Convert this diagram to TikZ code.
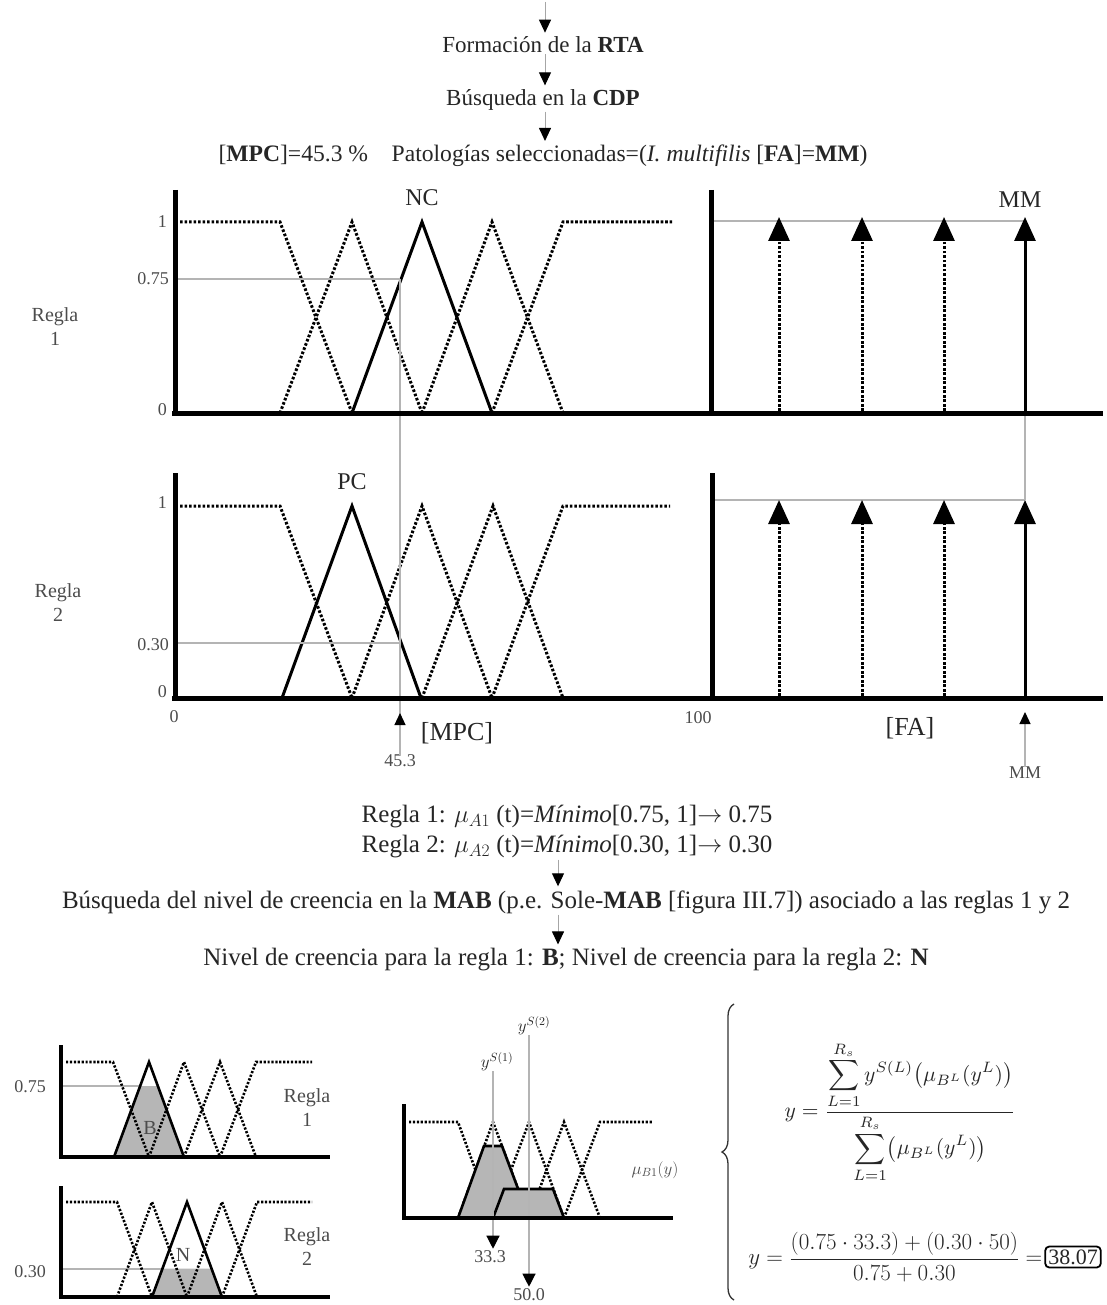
\RequirePackage{fix-cm}
\documentclass[tikz,border=0pt]{standalone}
\usepackage{graphicx}
\usepackage{fontspec}
\setmainfont{Liberation Serif}
\usetikzlibrary{arrows.meta,decorations.pathreplacing}
\definecolor{fillg}{HTML}{B6B6B6}
\definecolor{guidec}{HTML}{B4B4B4}
\begin{document}
\begin{tikzpicture}[x=1pt,y=-1pt,
  txt/.style={font=\fontsize{23}{26}\selectfont, text=black!85, inner sep=1pt},
  ltxt/.style={font=\fontsize{25}{28}\selectfont, text=black!85, inner sep=1pt},
  lab/.style={font=\fontsize{18}{21}\selectfont, text=black!70, inner sep=0pt},
  rlab/.style={font=\fontsize{20}{24}\selectfont, text=black!70, inner sep=0pt, align=center},
  big/.style={font=\fontsize{24}{26}\selectfont, text=black!85, inner sep=0pt},
  axl/.style={font=\fontsize{26}{28}\selectfont, text=black!85, inner sep=0pt},
  ax/.style={line width=5pt},
  sax/.style={line width=4pt},
  mf/.style={line width=3pt, line join=miter},
  mfd/.style={line width=3pt, dash pattern=on 2.6pt off 1.9pt, line join=miter},
  smf/.style={line width=2.6pt, line join=miter},
  smfd/.style={line width=2.6pt, dash pattern=on 2.2pt off 1.7pt, line join=miter},
  guide/.style={draw=guidec, line width=1.2pt},
  flowarrow/.style={draw=black!35, line width=1pt, -{Triangle[length=13pt,width=12pt,black]}, shorten >=3pt},
  fa/.style={-{Triangle[length=24pt,width=21pt]}},
  tipup/.style={draw=guidec, line width=1.2pt, -{Triangle[length=12pt,width=11pt,black]}},
  tipdown/.style={draw=guidec, line width=1.2pt, -{Triangle[length=13pt,width=13pt,black]}, shorten >=2pt},
  fml/.style={font=\fontsize{17}{20}\selectfont, text=black!85, inner sep=0pt},
  fmlb/.style={font=\fontsize{23}{27}\selectfont, text=black!85, inner sep=0pt},
]
\fill[white] (0,0) rectangle (1107,1305);
\useasboundingbox (0,0) rectangle (1107,1305);

% ---------- top flow ----------
\coordinate (fx) at (545,0);
\coordinate (top) at (545,2);
\node[txt] (rta) at (543,45) {Formación de la \textbf{RTA}};
\node[txt] (cdp) at (543,100) {Búsqueda en la \textbf{CDP}};
\node[txt, font=\fontsize{23.6}{26}\selectfont] (sel) at (543,156) {[\textbf{MPC}]=45.3 \%\quad Patologías seleccionadas=(\textit{I. multifilis} [\textbf{FA}]=\textbf{MM})};
\draw[flowarrow] (top) -- (rta.north -| fx);
\draw[flowarrow] (rta.south -| fx) -- (cdp.north -| fx);
\draw[flowarrow] (cdp.south -| fx) -- (sel.north -| fx);

% ---------- Regla 1 (upper) ----------
\node[rlab] (r1) at (55,327) {Regla\\1};
\node[lab, anchor=east] (r1y1) at (167,222) {1};
\node[lab, anchor=east] (r1y75) at (169,279) {0.75};
\node[lab, anchor=east] (r1y0) at (167,410) {0};
\draw[mfd] (180,222) -- (280,222) -- (352,413);
\draw[mfd] (280,413) -- (352,222) -- (422,413);
\draw[mfd] (422,413) -- (492,222) -- (563,413);
\draw[mfd] (492,413) -- (563,222) -- (672,222);
\draw[mf] (352,413) -- (422,222) -- (492,413);
\draw[guide] (177,279) -- (400,279);
\node[big] (nc) at (422,198) {NC};
\draw[guide] (714,221) -- (1025,221);
\foreach \x in {779,862,944} \draw[mfd, fa] (\x,411) -- (\x,217);
\draw[mf, fa] (1025,411) -- (1025,217);
\node[big] (mm1) at (1020,200) {MM};
\draw[guide] (1025,413) -- (1025,500);

% ---------- Regla 2 (lower) ----------
\node[rlab] (r2) at (58,603) {Regla\\2};
\node[lab, anchor=east] (r2y1) at (167,503) {1};
\node[lab, anchor=east] (r2y30) at (169,645) {0.30};
\node[lab, anchor=east] (r2y0) at (167,692) {0};
\draw[mfd] (180,506) -- (280,506) -- (352,698);
\draw[mfd] (352,698) -- (422,506) -- (492,698);
\draw[mfd] (422,698) -- (493,506) -- (563,698);
\draw[mfd] (492,698) -- (563,506) -- (670,506);
\draw[mf] (282,698) -- (352,506) -- (421,698);
\draw[guide] (177,643) -- (400,643);
\node[big] (pc) at (352,482) {PC};
\draw[guide] (714,500) -- (1025,500);
\foreach \x in {779,862,944} \draw[mfd, fa] (\x,696) -- (\x,500);
\draw[mf, fa] (1025,696) -- (1025,500);

% vertical guide 45.3
\draw[guide] (400,279) -- (400,716);

% axes
\draw[ax] (175,190) -- (175,413);
\draw[ax] (172,413) -- (1103,413);
\draw[ax] (711,190) -- (711,413);
\draw[ax] (175,473) -- (175,698);
\draw[ax] (172,698) -- (1103,698);
\draw[ax] (712,473) -- (712,698);

% x axis labels
\node[lab] (x0) at (174,717) {0};
\node[axl] (xmpc) at (457,733) {[MPC]};
\node[lab] (x100) at (698,718) {100};
\node[axl] (xfa) at (910,728) {[FA]};
\node[lab] (v453) at (400,761) {45.3};
\node[lab] (vmm) at (1025,773) {MM};
\coordinate (a453) at (400,713);
\coordinate (amm) at (1025,712);
\draw[tipup] (v453.north) -- (a453);
\draw[tipup] (vmm.north) -- (amm);

% ---------- rules ----------
\coordinate (gx) at (558,0);
\node[ltxt] (rule1) at (567,817) {Regla 1: $\mu_{A1}$ (t)=\textit{Mínimo}[0.75, 1]$\rightarrow$ 0.75};
\node[ltxt] (rule2) at (567,847) {Regla 2: $\mu_{A2}$ (t)=\textit{Mínimo}[0.30, 1]$\rightarrow$ 0.30};
\node[ltxt] (busq) at (566,902) {Búsqueda del nivel de creencia en la \textbf{MAB} (p.e. Sole-\textbf{MAB} [figura III.7]) asociado a las reglas 1 y 2};
\node[ltxt] (nivel) at (566,960) {Nivel de creencia para la regla 1: \textbf{B}; Nivel de creencia para la regla 2: \textbf{N}};
\draw[flowarrow] (rule2.south -| gx) -- (busq.north -| gx);
\draw[flowarrow] (busq.south -| gx) -- (nivel.north -| gx);

% ---------- small plot a ----------
\fill[fillg] (114,1157) -- (140,1086) -- (158,1086) -- (184,1157) -- cycle;
\draw[guide] (63,1086) -- (140,1086);
\draw[smfd] (66,1062) -- (113,1062) -- (149,1157);
\draw[smfd] (149,1157) -- (184,1062) -- (220,1157);
\draw[smfd] (184,1157) -- (220,1062) -- (256,1157);
\draw[smfd] (220,1157) -- (256,1062) -- (312,1062);
\draw[smf] (114,1157) -- (149,1062) -- (184,1157);
\draw[sax] (61,1045) -- (61,1157);
\draw[sax] (59,1157) -- (330,1157);
\node[lab] (sa75) at (30,1087) {0.75};
\node[rlab] (sab) at (150,1128) {B};
\node[rlab] (sar) at (307,1108) {Regla\\1};

% ---------- small plot b ----------
\fill[fillg] (152,1297) -- (162.5,1268.5) -- (211.5,1268.5) -- (222,1297) -- cycle;
\draw[guide] (63,1269) -- (163,1269);
\draw[smfd] (66,1202) -- (117,1202) -- (152,1297);
\draw[smfd] (117,1297) -- (152,1202) -- (187,1297);
\draw[smfd] (187,1297) -- (222,1202) -- (257,1297);
\draw[smfd] (222,1297) -- (257,1202) -- (312,1202);
\draw[smf] (152,1297) -- (187,1202) -- (222,1297);
\draw[sax] (61,1186) -- (61,1297);
\draw[sax] (59,1297) -- (330,1297);
\node[lab] (sb30) at (30,1272) {0.30};
\node[rlab] (sbn) at (183,1255) {N};
\node[rlab] (sbr) at (307,1247) {Regla\\2};

% ---------- aggregation plot c ----------
\draw[smfd] (409,1122) -- (458,1122) -- (493,1218);
\draw[smfd] (458,1218) -- (493,1122) -- (529,1218);
\draw[smfd] (493,1218) -- (529,1122) -- (564,1218);
\draw[smfd] (529,1218) -- (564,1122) -- (600,1218);
\draw[smfd] (564,1218) -- (600,1122) -- (653,1122);
\filldraw[fill=fillg, smf] (458,1218) -- (484,1146) -- (502,1146) -- (529,1218) -- cycle;
\filldraw[fill=fillg, smf] (493,1218) -- (504,1189) -- (553,1189) -- (564,1218) -- cycle;
\coordinate (g1) at (493,0);
\coordinate (g2) at (529,0);
\node[fml] (ys1) at (497,1062) {$y^{S(1)}$};
\node[fml] (ys2) at (534,1026) {$y^{S(2)}$};
\node[lab] (v333) at (490,1257) {33.3};
\node[lab] (v500) at (529,1295) {50.0};
\draw[tipdown] (ys1.south -| g1) -- (v333.north -| g1);
\draw[tipdown] (ys2.south -| g2) -- (v500.north -| g2);
\draw[sax] (404,1104) -- (404,1218);
\draw[sax] (402,1218) -- (673,1218);
\node[fml, text=black!70] (mub) at (655,1170) {$\mu_{B1}(y)$};

% ---------- formulas ----------
\draw[line width=1.3pt, black!80, decorate, decoration={brace, amplitude=12pt}] (734,1300) -- (734,1004);
\node[font=\fontsize{10}{12}\selectfont, text=black!85, inner sep=0pt] (f1) at (900,1112) {\scalebox{2.15}{$\displaystyle y=\frac{\displaystyle\sum_{L=1}^{R_s} y^{S(L)}\bigl(\mu_{B^L}(y^L)\bigr)}{\displaystyle\sum_{L=1}^{R_s}\bigl(\mu_{B^L}(y^L)\bigr)}$}};
\node[font=\fontsize{22}{26}\selectfont, text=black!85, draw, line width=1.8pt, rounded corners=4pt, inner sep=3pt] (res) at (1073,1257) {38.07};
\node[fmlb, anchor=east] (f2) at ([xshift=-2pt]res.west) {$\displaystyle y=\frac{(0.75\cdot 33.3)+(0.30\cdot 50)}{0.75+0.30}=$};
\end{tikzpicture}
\end{document}
